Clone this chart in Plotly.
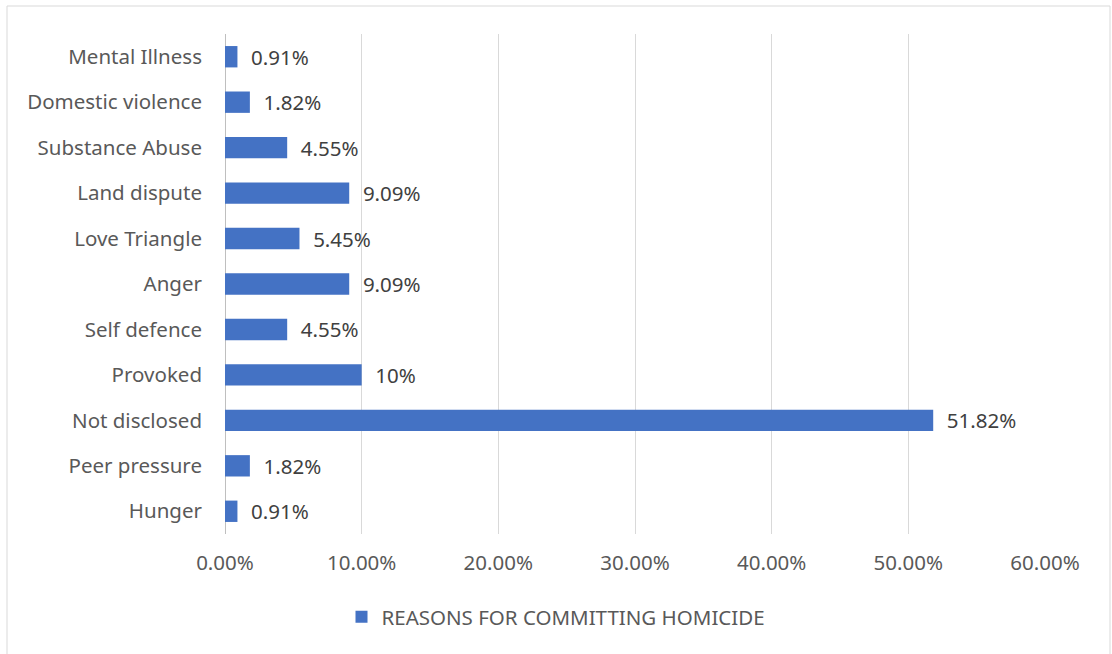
import plotly.graph_objects as go

categories = ["Hunger", "Peer pressure", "Not disclosed", "Provoked", "Self defence",
              "Anger", "Love Triangle", "Land dispute", "Substance Abuse",
              "Domestic violence", "Mental Illness"]
values = [0.91, 1.82, 51.82, 10, 4.55, 9.09, 5.45, 9.09, 4.55, 1.82, 0.91]
series_name = "REASONS FOR COMMITTING HOMICIDE"

labels = ["  " + f"{v:g}%" for v in values]

W, H = 1112, 654
L, R, T, B = 225, 67, 34, 120
pw, ph = W - L - R, H - T - B

fig = go.Figure(go.Bar(
    y=categories, x=values, orientation="h", name=series_name,
    marker=dict(color="#4472C4", line=dict(width=0)),
    text=labels, textposition="outside", cliponaxis=False, constraintext="none",
    textfont=dict(size=20.5, color="#404040"),
    showlegend=True,
))

font = "Noto Sans"
fig.update_layout(
    width=W, height=H,
    margin=dict(l=L, r=R, t=T, b=B, autoexpand=False),
    paper_bgcolor="white", plot_bgcolor="white",
    font=dict(family=font, size=20.5, color="#595959"),
    bargap=0.53,
    xaxis=dict(range=[0, 60], dtick=10, tickformat=".2f", ticksuffix="%",
               showgrid=True, gridcolor="#d9d9d9", gridwidth=1,
               zeroline=True, zerolinecolor="#bfbfbf", zerolinewidth=1,
               showline=False, ticks="", ticklabelstandoff=14, tickangle=0,
               automargin=False,
               tickfont=dict(size=20.5, color="#595959")),
    yaxis=dict(showgrid=False, showline=False, ticks="", ticklabelstandoff=22,
               automargin=False,
               tickfont=dict(size=20.5, color="#595959")),
    legend=dict(orientation="h", x=(556 - L) / pw, xanchor="center",
                y=(T + ph - 617) / ph, yanchor="middle",
                font=dict(size=20.5, color="#595959")),
    shapes=[dict(type="rect", xref="paper", yref="paper",
                 x0=(7 - L) / pw, x1=(1110 - L) / pw,
                 y0=(T + ph - 660) / ph, y1=(T + ph - 6) / ph,
                 line=dict(color="#d9d9d9", width=1), fillcolor="rgba(0,0,0,0)",
                 layer="below")],
)

fig.write_html("out.html")
